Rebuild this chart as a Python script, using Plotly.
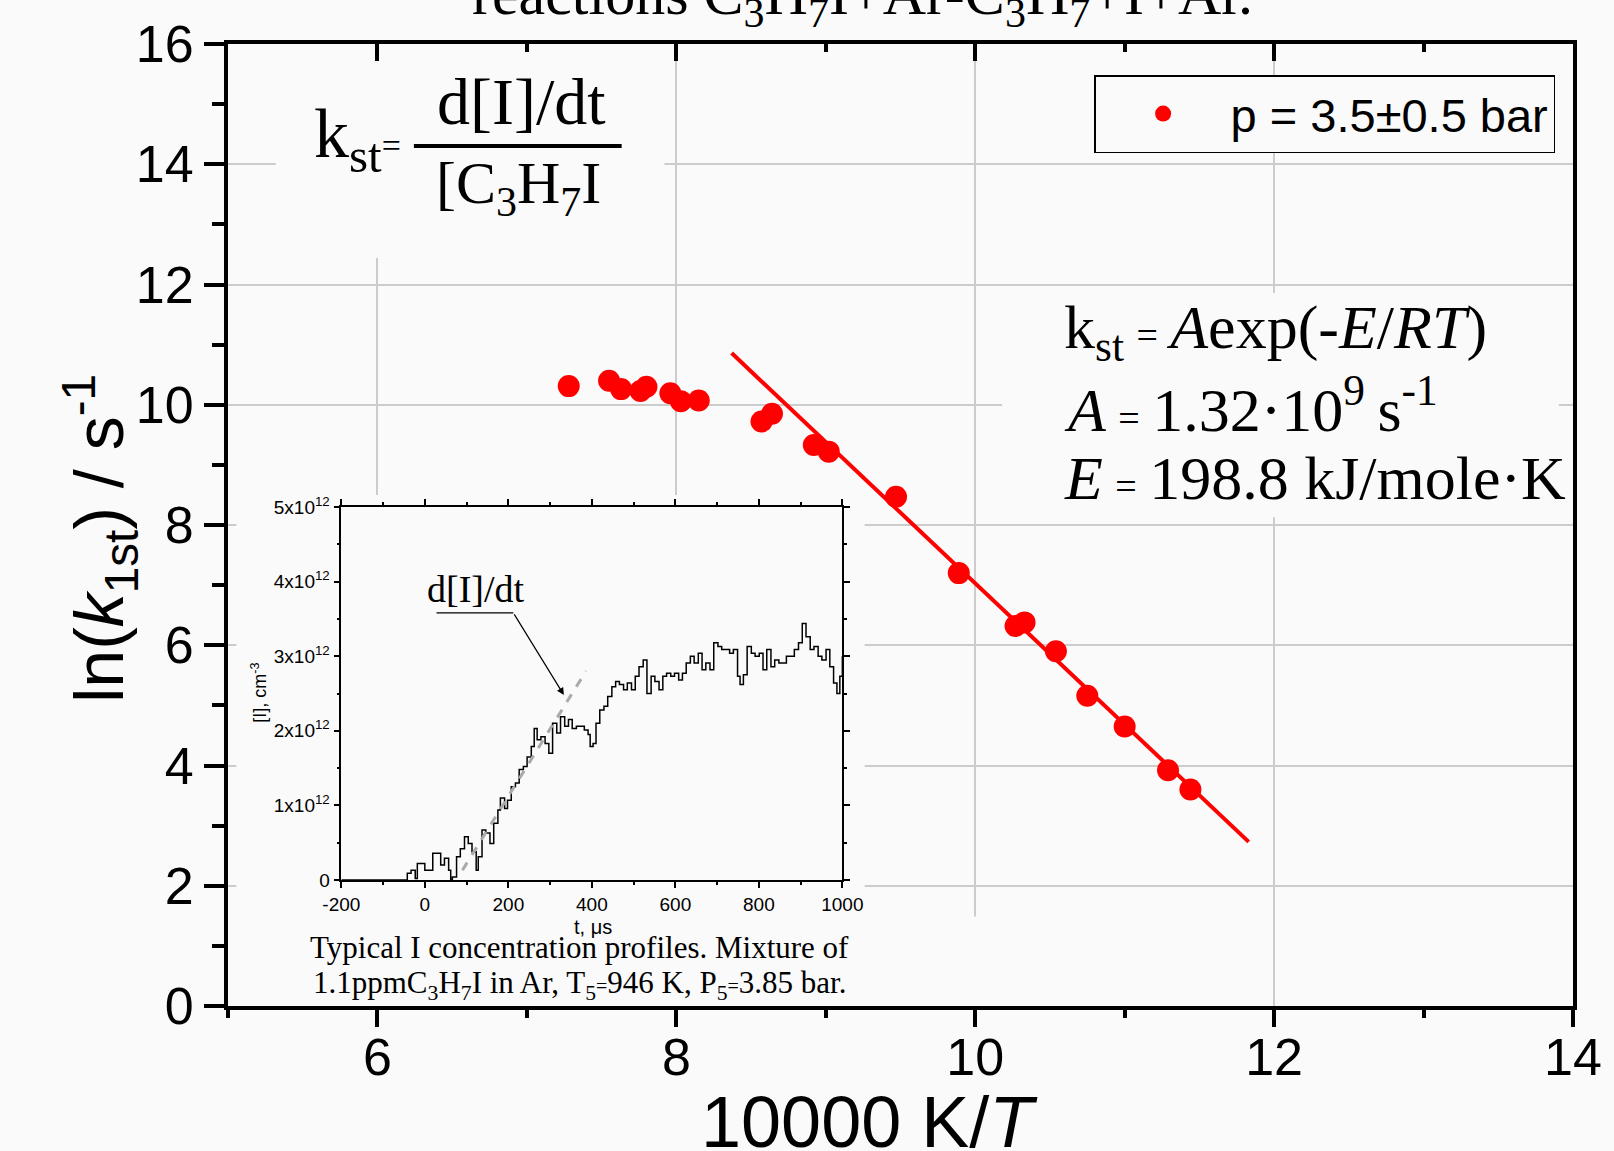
import plotly.graph_objects as go

# ---------------- data ----------------
inv_T = [7.28, 7.55, 7.63, 7.76, 7.80, 7.96, 8.03, 8.15, 8.57, 8.64, 8.92, 9.02,
         9.47, 9.89, 10.27, 10.33, 10.54, 10.75, 11.00, 11.29, 11.44]
ln_k = [10.31, 10.40, 10.26, 10.23, 10.30, 10.19, 10.06, 10.07, 9.72, 9.85, 9.33, 9.22,
        8.47, 7.20, 6.32, 6.38, 5.90, 5.16, 4.65, 3.92, 3.60]
fit_x = [8.37, 11.83]
fit_y = [10.86, 2.73]
series_name = "p = 3.5±0.5 bar"

inset_t = [-200, -47, -42, -33, -23, -18, -9, 0, 10, 19, 29, 38, 47, 57, 62, 66, 76, 85, 95,
           104, 113, 123, 128, 137, 146, 156, 165, 175, 181, 191, 198, 207, 217, 226, 236,
           245, 255, 262, 269, 278, 288, 297, 306, 316, 325, 335, 344, 353, 363, 372, 382,
           391, 396, 403, 410, 419, 429, 438, 448, 457, 466, 476, 485, 495, 504, 513, 523,
           532, 542, 551, 561, 570, 579, 589, 598, 608, 617, 626, 636, 645, 655, 664, 673,
           683, 692, 702, 711, 721, 730, 739, 749, 755, 763, 772, 782, 791, 801, 810, 819,
           829, 838, 848, 857, 866, 876, 885, 895, 904, 913, 923, 932, 942, 951, 961, 970,
           979, 987, 994, 1000]
inset_I = [0, 0, 0.09, 0.13, 0.02, 0.22, 0.22, 0.13, 0.13, 0.36, 0.36, 0.20, 0.29, 0.13, 0.0,
           0.04, 0.31, 0.42, 0.58, 0.49, 0.38, 0.13, 0.31, 0.67, 0.63, 0.49, 0.76, 0.94, 1.10,
           0.96, 1.07, 1.25, 1.30, 1.48, 1.52, 1.65, 1.79, 2.03, 1.88, 1.92, 1.83, 1.70, 2.10,
           1.97, 2.19, 2.06, 2.15, 2.03, 2.06, 2.06, 2.01, 1.95, 1.79, 1.83, 2.10, 2.28, 2.33,
           2.46, 2.59, 2.66, 2.62, 2.55, 2.64, 2.55, 2.73, 2.86, 2.95, 2.50, 2.73, 2.66, 2.55,
           2.73, 2.77, 2.73, 2.77, 2.68, 2.77, 2.91, 3.00, 2.91, 3.04, 2.82, 2.91, 2.82, 3.18,
           3.13, 3.09, 3.09, 3.04, 3.09, 2.73, 2.62, 2.75, 3.13, 3.04, 3.00, 3.04, 2.82, 3.09,
           2.86, 2.95, 2.91, 2.91, 3.00, 3.00, 3.09, 3.18, 3.44, 3.26, 3.09, 3.13, 3.00, 2.95,
           3.09, 2.86, 2.64, 2.50, 2.73, 3.00]   # units of 1e12 cm^-3
slope_t = [90, 386]
slope_I = [0.13, 2.80]

inset_xtick_vals = [-200, 0, 200, 400, 600, 800, 1000]
inset_xtick_text = ["-200", "0", "200", "400", "600", "800", "1000"]
inset_ytick_vals = [0, 1, 2, 3, 4, 5]
inset_ytick_text = ["0", "1x10<sup>12</sup>", "2x10<sup>12</sup>", "3x10<sup>12</sup>",
                    "4x10<sup>12</sup>", "5x10<sup>12</sup>"]

# ---------------- layout helpers ----------------
W, H = 1614, 1151
L, R, T, B = 228, 33, 44, 145
PW, PH = W - L - R, H - T - B
SANS = "Liberation Sans, Arial, sans-serif"
SERIF = "Liberation Serif, Times New Roman, serif"
BG = "#fafafa"


def px(x):
    return (x - L) / PW


def py(y):
    return (H - B - y) / PH


def small(s, size):
    return '<span style="font-size:%dpx">%s</span>' % (size, s)


def text_at(txt, x, base, size, family=SERIF, xanchor="center", angle=0, ymid=None):
    yc = ymid if ymid is not None else base - 0.35 * size
    return dict(text=txt, x=px(x), y=py(yc), xref="paper", yref="paper",
                xanchor=xanchor, yanchor="middle", showarrow=False, textangle=angle,
                font=dict(family=family, size=size, color="black"))


fig = go.Figure()

fig.add_trace(go.Scatter(x=fit_x, y=fit_y, mode="lines", line=dict(color="#ff0000", width=4),
                         showlegend=False, hoverinfo="skip"))
fig.add_trace(go.Scatter(x=inv_T, y=ln_k, mode="markers", name=series_name,
                         marker=dict(color="#ff0000", size=22, line=dict(width=0))))
fig.add_trace(go.Scatter(x=[], y=[], xaxis="x2", yaxis="y", showlegend=False))

fig.add_trace(go.Scatter(x=inset_t, y=inset_I, mode="lines", line=dict(color="black", width=1.5, shape="hv"),
                         xaxis="x3", yaxis="y3", showlegend=False))
fig.add_trace(go.Scatter(x=slope_t, y=slope_I, mode="lines",
                         line=dict(color="#aaaaaa", width=3, dash="dash"),
                         xaxis="x3", yaxis="y3", showlegend=False))

axis_common = dict(showline=True, linecolor="black", linewidth=4, zeroline=False,
                   showgrid=True, gridcolor="#cccccc", gridwidth=2,
                   tickcolor="black", tickwidth=4,
                   tickfont=dict(family=SANS, size=52, color="black"))

fig.update_layout(
    width=W, height=H,
    margin=dict(l=L, r=R, t=T, b=B, pad=0),
    paper_bgcolor=BG, plot_bgcolor=BG,
    xaxis=dict(range=[5, 14], tick0=6, dtick=2, ticks="outside", ticklen=17, mirror=True,
               ticklabelstandoff=-14,
               minor=dict(dtick=1, tick0=5, ticks="outside", ticklen=8, tickwidth=4,
                          tickcolor="black", showgrid=False),
               **axis_common),
    xaxis2=dict(range=[5, 14], overlaying="x", side="top", anchor="y", tick0=6, dtick=2,
                ticks="inside", ticklen=17, tickwidth=4, tickcolor="black",
                showticklabels=False, showgrid=False, showline=False, zeroline=False,
                minor=dict(dtick=1, tick0=5, ticks="inside", ticklen=8, tickwidth=4,
                           tickcolor="black", showgrid=False)),
    yaxis=dict(range=[0, 16], tick0=0, dtick=2, ticks="outside", ticklen=20, mirror=True,
               minor=dict(dtick=1, tick0=0, ticks="outside", ticklen=12, tickwidth=4,
                          tickcolor="black", showgrid=False),
               **axis_common),
    xaxis3=dict(domain=[px(342), px(846)], anchor="y3", range=[-200, 1000],
                tickmode="array", tickvals=inset_xtick_vals, ticktext=inset_xtick_text,
                ticks="outside", ticklen=6, tickwidth=1.5, tickcolor="black",
                mirror="ticks", showline=True, linecolor="black", linewidth=1.5,
                showgrid=False, zeroline=False,
                minor=dict(tickmode="linear", tick0=-200, dtick=100, ticks="outside",
                           ticklen=3, tickwidth=1.5, tickcolor="black"),
                tickfont=dict(family=SANS, size=19, color="black")),
    yaxis3=dict(domain=[py(880), py(507)], anchor="x3", range=[0, 5],
                tickmode="array", tickvals=inset_ytick_vals, ticktext=inset_ytick_text,
                ticks="outside", ticklen=6, tickwidth=1.5, tickcolor="black",
                mirror="ticks", showline=True, linecolor="black", linewidth=1.5,
                showgrid=False, zeroline=False,
                minor=dict(tickmode="linear", tick0=0, dtick=0.5, ticks="outside",
                           ticklen=3, tickwidth=1.5, tickcolor="black"),
                tickfont=dict(family=SANS, size=19, color="black")),
    legend=dict(x=px(1563), y=py(75), xanchor="right", yanchor="top",
                bgcolor=BG, bordercolor="black", borderwidth=1.5, itemwidth=125,
                font=dict(family=SANS, size=47, color="black")),
)

# masks hiding grid lines behind the text boxes (as in the original composite)
masks = [(5.32, 7.92, 12.44, 16.0), (10.18, 13.905, 8.13, 11.86), (5.056, 9.26, 0, 8.50),
         (9.9, 10.1, 0, 1.49)]
for x0, x1, y0, y1 in masks:
    fig.add_shape(type="rect", xref="x", yref="y", x0=x0, x1=x1, y0=y0, y1=y1,
                  fillcolor=BG, line=dict(width=0), layer="between")

# fraction bar of the top-left formula
fig.add_shape(type="line", xref="paper", yref="paper", x0=px(415), x1=px(624),
              y0=py(146), y1=py(146), line=dict(color="black", width=4))
# underline of the inset label
fig.add_shape(type="line", xref="x3", yref="y3", x0=28, x1=212, y0=3.58, y1=3.58,
              line=dict(color="black", width=1.2))

EQ = small("=", 38)
TS = "\u2009"
ann = [
    text_at("reactions C<sub>3</sub>H<sub>7</sub>I+Ar-C<sub>3</sub>H<sub>7</sub>+I+Ar.", 866, 20, 60),
    text_at("k<sub>st</sub>" + small("=", 34), 313, 163, 70, xanchor="left"),
    text_at("d[I]/dt", 523, 125, 66),
    text_at("[C<sub>3</sub>H<sub>7</sub>I", 520, 208, 60),
    text_at("k<sub>st</sub>" + TS + EQ + TS + "<i>A</i>exp(-<i>E</i>/<i>RT</i>)", 1067, 353, 62, xanchor="left"),
    text_at("<i>A</i>" + TS + EQ + TS + "1.32·10<sup>9</sup>" + TS + "s<sup>-1</sup>", 1067, 427, 62, xanchor="left"),
    text_at("<i>E</i>" + TS + EQ + TS + "198.8 kJ/mole·K", 1067, 500, 62, xanchor="left"),
    text_at("Typical I concentration profiles. Mixture of", 582, 958, 31),
    text_at("1.1ppmC<sub>3</sub>H<sub>7</sub>I in Ar, T<sub>5</sub>" + small("=", 20) + "946 K, P<sub>5</sub>"
            + small("=", 20) + "3.85 bar.", 582, 996, 31),
    text_at("d[I]/dt", 477, 602, 38),
    text_at("t, μs", 595, 0, 20, family=SANS, ymid=927),
    text_at("[I], cm<sup>-3</sup>", 259, 0, 18, family=SANS, angle=-90, ymid=693),
    text_at("ln(<i>k</i><sub>1st</sub>) / s<sup>-1</sup>", 99, 0, 68, family=SANS, angle=-90, ymid=538),
    text_at("10000 K/<i>T</i>", 873, 1147, 72, family=SANS),
]
ann.append(dict(x=333, y=2.48, xref="x3", yref="y3", ax=212, ay=3.58, axref="x3", ayref="y3",
                text="", showarrow=True, arrowhead=2, arrowsize=1.2, arrowwidth=1.2,
                arrowcolor="black"))
fig.update_layout(annotations=ann)

fig.write_html("out.html")
